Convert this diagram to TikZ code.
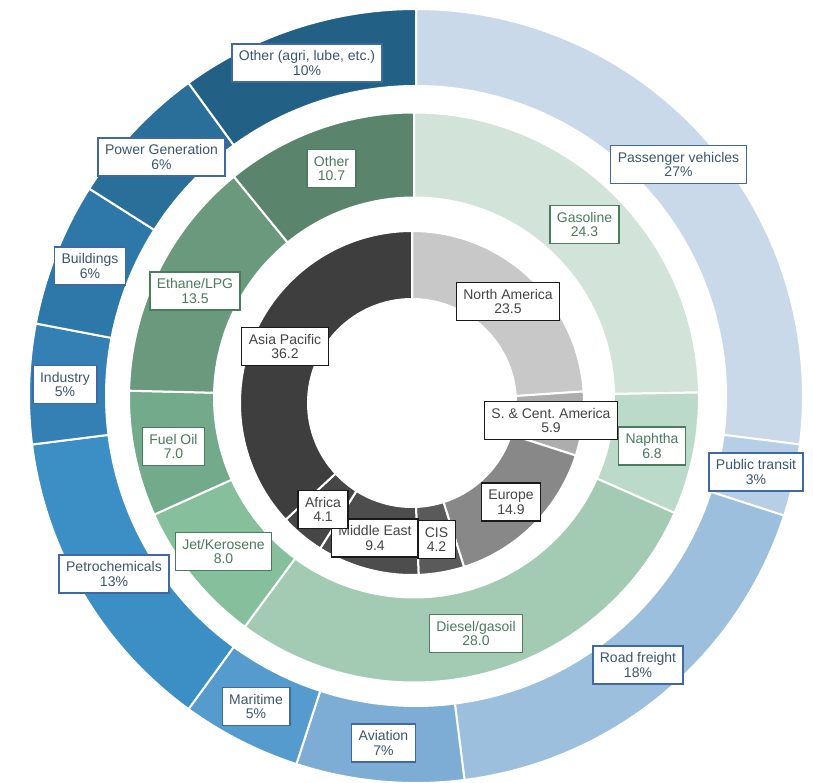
\documentclass[tikz,border=0pt]{standalone}
\usepackage{fontspec}
\setmainfont{Liberation Sans}
\frenchspacing
\definecolor{o1}{HTML}{C9D9EA}
\definecolor{o2}{HTML}{B6CEE6}
\definecolor{o3}{HTML}{9DBFDE}
\definecolor{o4}{HTML}{7DACD5}
\definecolor{o5}{HTML}{559BCD}
\definecolor{o6}{HTML}{3B8FC4}
\definecolor{o7}{HTML}{3480B5}
\definecolor{o8}{HTML}{2D78A8}
\definecolor{o9}{HTML}{296F99}
\definecolor{o10}{HTML}{226085}
\definecolor{m1}{HTML}{D2E3DA}
\definecolor{m2}{HTML}{BCDAC9}
\definecolor{m3}{HTML}{A3CBB4}
\definecolor{m4}{HTML}{85BF9C}
\definecolor{m5}{HTML}{74AA8C}
\definecolor{m6}{HTML}{6A997D}
\definecolor{m7}{HTML}{5A856C}
\definecolor{i1}{HTML}{C8C8C8}
\definecolor{i2}{HTML}{ADADAD}
\definecolor{i3}{HTML}{888888}
\definecolor{i4}{HTML}{5A5A5A}
\definecolor{i5}{HTML}{4D4D4D}
\definecolor{i6}{HTML}{464646}
\definecolor{i7}{HTML}{3E3E3E}
\definecolor{oborder}{HTML}{3F69A0}
\definecolor{otext}{HTML}{3B5670}
\definecolor{mborder}{HTML}{4A7D5E}
\definecolor{mtext}{HTML}{4A7A5D}
\definecolor{iborder}{HTML}{1A1A1A}
\definecolor{itext}{HTML}{444444}
\newcommand\ringseg[7]{%
  \path[fill=#7, draw=white, line width=1.5pt]
    ([shift={(#1,#2)}]#5:#3) arc[start angle=#5, end angle=#6, radius=#3]
    -- ([shift={(#1,#2)}]#6:#4) arc[start angle=#6, end angle=#5, radius=#4] -- cycle;}
\begin{document}
\begin{tikzpicture}[x=0.75pt,y=-0.75pt,
  lbl/.style={fill=white, line width=1pt, align=center, inner xsep=5.25pt,
    inner ysep=0pt, minimum height=28.5pt, font=\fontsize{10.5}{10.9}\selectfont},
  olbl/.style={lbl, draw=oborder, text=otext},
  mlbl/.style={lbl, draw=mborder, text=mtext},
  ilbl/.style={lbl, draw=iborder, text=itext}]
\useasboundingbox (0,0) rectangle (813,782);
\fill[white] (0,0) rectangle (813,782);
% outer ring
\ringseg{416}{396}{387}{310}{-90}{7.2}{o1}
\ringseg{416}{396}{387}{310}{7.2}{18}{o2}
\ringseg{416}{396}{387}{310}{18}{82.8}{o3}
\ringseg{416}{396}{387}{310}{82.8}{108}{o4}
\ringseg{416}{396}{387}{310}{108}{126}{o5}
\ringseg{416}{396}{387}{310}{126}{172.8}{o6}
\ringseg{416}{396}{387}{310}{172.8}{190.8}{o7}
\ringseg{416}{396}{387}{310}{190.8}{212.4}{o8}
\ringseg{416}{396}{387}{310}{212.4}{234}{o9}
\ringseg{416}{396}{387}{310}{234}{270}{o10}
% middle ring
\ringseg{414}{397.5}{285}{200}{-90}{-1.01}{m1}
\ringseg{414}{397.5}{285}{200}{-1.01}{23.90}{m2}
\ringseg{414}{397.5}{285}{200}{23.90}{126.44}{m3}
\ringseg{414}{397.5}{285}{200}{126.44}{155.74}{m4}
\ringseg{414}{397.5}{285}{200}{155.74}{181.37}{m5}
\ringseg{414}{397.5}{285}{200}{181.37}{230.81}{m6}
\ringseg{414}{397.5}{285}{200}{230.81}{270}{m7}
% inner ring
\ringseg{412}{403}{172}{104}{-90}{-3.85}{i1}
\ringseg{412}{403}{172}{104}{-3.85}{17.78}{i2}
\ringseg{412}{403}{172}{104}{17.78}{72.40}{i3}
\ringseg{412}{403}{172}{104}{72.40}{87.80}{i4}
\ringseg{412}{403}{172}{104}{87.80}{122.26}{i5}
\ringseg{412}{403}{172}{104}{122.26}{137.29}{i6}
\ringseg{412}{403}{172}{104}{137.29}{270}{i7}
% outer labels
\node[olbl] (oother) at (307,63) {Other (agri, lube, etc.)\\10\%};
\node[olbl] (opass) at (678.5,164.5) {Passenger vehicles\\27\%};
\node[olbl] (opub) at (756,472) {Public transit\\3\%};
\node[olbl] (oroad) at (638,665) {Road freight\\18\%};
\node[olbl] (oavi) at (383.5,743) {Aviation\\7\%};
\node[olbl] (omar) at (256,706.5) {Maritime\\5\%};
\node[olbl] (opet) at (114,574) {Petrochemicals\\13\%};
\node[olbl] (oind) at (65,384.5) {Industry\\5\%};
\node[olbl] (obld) at (90,266) {Buildings\\6\%};
\node[olbl] (opow) at (161.5,157) {Power Generation\\6\%};
% middle labels
\node[mlbl] (mother) at (331.5,168.5) {Other\\10.7};
\node[mlbl] (mgas) at (584.5,224.5) {Gasoline\\24.3};
\node[mlbl] (mnap) at (652,446) {Naphtha\\6.8};
\node[mlbl] (mdie) at (476,633.5) {Diesel/gasoil\\28.0};
\node[mlbl] (mjet) at (223.5,551.5) {Jet/Kerosene\\8.0};
\node[mlbl] (mfuel) at (173.5,446.5) {Fuel Oil\\7.0};
\node[mlbl] (meth) at (195,291) {Ethane/LPG\\13.5};
% inner labels
\node[ilbl] (ina) at (508,301.5) {North America\\23.5};
\node[ilbl] (isca) at (551,420.5) {S. \& Cent. America\\5.9};
\node[ilbl] (ieur) at (511,502) {Europe\\14.9};
\node[ilbl] (ime) at (375,538) {Middle East\\9.4};
\node[ilbl] (iafr) at (323,509.5) {Africa\\4.1};
\node[ilbl] (icis) at (436.5,539.5) {CIS\\4.2};
\node[ilbl] (iasia) at (285,346.5) {Asia Pacific\\36.2};
\end{tikzpicture}
\end{document}
